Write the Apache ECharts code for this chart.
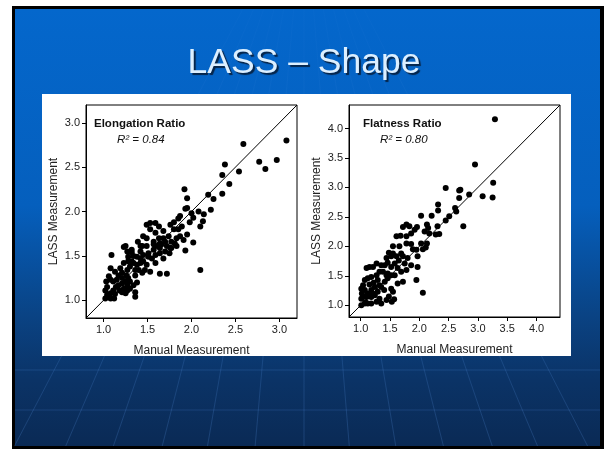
<!DOCTYPE html>
<html>
<head>
<meta charset="utf-8">
<script src="https://cdn.jsdelivr.net/npm/echarts@6/dist/echarts.min.js"></script>
<style>
  html, body { margin: 0; padding: 0; background: #fff; }
  #chart { width: 604px; height: 449px; }
</style>
</head>
<body>
<div id="chart"></div>
<script>
// Elongation ratio: manual vs LASS
const elongManual = [3.08, 2.97, 2.84, 2.77, 2.59, 2.54, 2.43, 2.38, 2.35, 2.35, 2.25, 2.19, 2.22, 2.14, 2.08, 2.13,
  2.02, 1.98, 1.92, 1.95, 1.93, 1.95, 2.00, 2.10, 2.02, 1.93, 2.10, 1.95, 1.89, 1.87, 1.85, 1.80, 1.83, 1.77, 1.81,
  1.77, 1.72, 1.74, 1.68, 1.64, 1.63, 1.59, 1.57, 1.53, 1.49, 1.53, 1.49, 1.72, 1.64, 1.53, 1.59, 1.68, 1.75, 1.64,
  1.57, 1.49, 1.44, 1.42, 1.45, 1.51, 1.55, 1.59, 1.61, 1.64, 1.70, 1.49, 1.45, 1.42, 1.38, 1.32, 1.32, 1.34, 1.38,
  1.23, 1.25, 1.09, 1.08, 1.28, 1.23, 1.19, 1.27, 1.30, 1.36, 1.40, 1.44, 1.36, 1.38, 1.36, 1.36, 1.27, 1.23, 1.21,
  1.15, 1.17, 1.11, 1.08, 1.04, 1.02, 1.08, 1.12, 1.02, 1.04, 1.03, 1.08, 1.11, 1.06, 1.17, 1.21, 1.26, 1.28, 1.30,
  1.25, 1.21, 1.14, 1.18, 1.21, 1.13, 1.25, 1.27, 1.30, 1.34, 1.13, 1.28, 1.34, 1.42, 1.47, 1.51, 1.57, 1.63, 1.68,
  1.66, 1.70, 1.76, 1.80, 1.85, 1.87, 1.91, 1.83, 1.76, 1.59, 1.45, 1.39, 1.42, 1.27, 1.32];
const elongLass = [2.80, 2.58, 2.48, 2.56, 2.76, 2.45, 2.31, 2.53, 2.41, 2.20, 2.14, 2.19, 2.02, 1.97, 2.00, 1.89,
  1.93, 1.88, 2.25, 2.15, 2.03, 2.04, 1.98, 1.83, 1.65, 1.56, 1.34, 1.74, 1.83, 1.95, 1.92, 1.80, 1.70, 1.66, 1.64,
  1.59, 1.61, 1.72, 1.78, 1.64, 1.83, 1.76, 1.66, 1.87, 1.85, 1.80, 1.70, 1.30, 1.30, 1.32, 1.42, 1.47, 1.53, 1.53,
  1.57, 1.61, 1.61, 1.55, 1.51, 1.49, 1.47, 1.51, 1.61, 1.59, 1.55, 1.40, 1.44, 1.42, 1.40, 1.44, 1.54, 1.50, 1.49,
  1.60, 1.61, 1.51, 1.36, 1.44, 1.42, 1.36, 1.34, 1.38, 1.34, 1.34, 1.31, 1.28, 1.20, 1.09, 1.04, 1.17, 1.13, 1.25,
  1.23, 1.17, 1.11, 1.08, 1.06, 1.02, 1.02, 1.02, 1.11, 1.15, 1.21, 1.23, 1.21, 1.27, 1.28, 1.31, 1.28, 1.25, 1.21,
  1.21, 1.19, 1.15, 1.11, 1.09, 1.07, 1.08, 1.11, 1.13, 1.17, 1.32, 1.49, 1.42, 1.47, 1.34, 1.53, 1.63, 1.70, 1.70,
  1.63, 1.66, 1.85, 1.88, 1.80, 1.72, 1.68, 1.61, 1.59, 1.87, 1.72, 1.66, 1.61, 1.55, 1.57];

// Flatness ratio: manual vs LASS
const flatManual = [3.29, 2.95, 3.26, 3.25, 3.08, 2.85, 2.70, 2.68, 2.45, 2.68, 2.61, 2.63, 2.51, 2.45, 2.75, 2.32,
  2.32, 2.31, 2.34, 2.28, 2.21, 2.03, 2.13, 2.15, 2.17, 2.09, 2.13, 2.11, 2.06, 2.03, 1.96, 1.92, 1.86, 1.83, 1.78,
  1.72, 1.68, 1.78, 1.61, 1.55, 1.86, 1.89, 1.95, 1.97, 1.97, 1.95, 2.06, 1.69, 1.65, 1.75, 1.80, 1.86, 1.78, 1.69,
  1.72, 1.63, 1.58, 1.52, 1.48, 1.52, 1.46, 1.41, 1.38, 1.44, 1.52, 1.55, 1.57, 1.53, 1.48, 1.40, 1.32, 1.29, 1.27,
  1.18, 1.12, 1.15, 1.10, 1.21, 1.24, 1.18, 1.12, 1.07, 1.02, 1.01, 1.01, 1.07, 1.12, 1.18, 1.27, 1.32, 1.35, 1.44,
  1.04, 1.07, 1.01, 1.10, 1.18, 1.24, 1.29, 1.35, 1.41, 1.46, 1.52, 1.32, 1.35, 1.44, 1.58, 1.63, 1.61, 1.55, 1.66,
  1.78, 1.72, 1.46, 1.27, 1.05, 1.15, 1.22, 1.08, 1.20];
const flatLass = [4.16, 3.39, 3.08, 2.83, 2.85, 2.88, 2.96, 2.95, 2.99, 2.82, 2.65, 2.59, 2.51, 2.44, 2.34, 2.71,
  2.61, 2.34, 2.21, 2.20, 2.52, 2.52, 2.37, 2.31, 2.22, 2.25, 2.05, 1.98, 1.95, 2.05, 2.33, 2.28, 2.22, 2.34, 2.37,
  2.33, 2.18, 2.17, 2.17, 2.00, 2.04, 1.95, 1.94, 1.83, 1.65, 1.43, 1.21, 1.88, 1.76, 1.71, 1.80, 1.68, 1.60, 1.57,
  1.40, 1.37, 1.51, 1.65, 1.89, 1.83, 1.72, 1.68, 1.57, 1.51, 1.28, 1.23, 1.10, 1.06, 1.15, 1.26, 1.34, 1.43, 1.51,
  1.48, 1.46, 1.65, 1.63, 1.65, 1.31, 1.26, 1.20, 1.26, 1.20, 1.11, 1.00, 1.03, 1.03, 1.03, 1.06, 1.11, 1.03, 1.09,
  1.34, 1.43, 1.28, 1.14, 1.14, 1.17, 1.23, 1.31, 1.40, 1.46, 1.51, 1.57, 1.68, 1.80, 1.71, 1.63, 1.83, 1.88, 2.00,
  2.05, 1.83, 1.54, 1.71, 1.15, 1.35, 1.38, 1.05, 1.20];

const elongTicks = [1.0, 1.5, 2.0, 2.5, 3.0];
const flatTicks = [1.0, 1.5, 2.0, 2.5, 3.0, 3.5, 4.0];
const elongRange = [0.8, 3.2];
const flatRange = [0.8, 4.4];

const zip = (xs, ys) => xs.map((x, i) => [x, ys[i]]);

const chart = echarts.init(document.getElementById('chart'));

const FONT = 'Liberation Sans, Arial, sans-serif';

const makeAxis = (gridIndex, range, ticks, name, isY) => ({
  type: 'value',
  gridIndex,
  min: range[0],
  max: range[1],
  name,
  nameLocation: 'middle',
  nameGap: isY ? 26 : 27,
  nameTextStyle: { fontFamily: FONT, fontSize: 12, color: '#222' },
  axisLine: { show: true, onZero: false, lineStyle: { color: '#000', width: 1 } },
  axisTick: { show: true, inside: false, length: 4, customValues: ticks, lineStyle: { color: '#000' } },
  axisLabel: {
    customValues: ticks,
    formatter: v => v.toFixed(1),
    fontFamily: FONT,
    fontSize: 11,
    color: '#222',
    margin: 6
  },
  splitLine: { show: false }
});

// faint decorative lines in the slide background
const meridianX = [61, 104, 144, 185, 223, 263, 304, 342, 381, 421, 462, 500, 542];
const vanish = [304, -108];
const meridians = meridianX.map(x0 => {
  const f = y => vanish[0] + (x0 - vanish[0]) * (y - vanish[1]) / (357 - vanish[1]);
  return {
    type: 'line',
    z: -8,
    silent: true,
    shape: { x1: f(9), y1: 9, x2: f(446), y2: 446 },
    style: {
      lineWidth: 1,
      stroke: {
        type: 'linear', x: 0, y: 0, x2: 0, y2: 1,
        colorStops: [
          { offset: 0, color: 'rgba(90,150,230,0.03)' },
          { offset: 1, color: 'rgba(90,150,230,0.22)' }
        ]
      }
    }
  };
});

const option = {
  animation: false,
  graphic: [
    { type: 'rect', z: -10, silent: true, shape: { x: 12, y: 6, width: 592, height: 443 }, style: { fill: '#000' } },
    {
      type: 'rect', z: -9, silent: true,
      shape: { x: 15, y: 9, width: 585, height: 437 },
      style: {
        fill: {
          type: 'linear', x: 0, y: 0, x2: 0, y2: 1,
          colorStops: [
            { offset: 0, color: '#0467cc' },
            { offset: 0.45, color: '#055fbd' },
            { offset: 0.7, color: '#0a4384' },
            { offset: 0.85, color: '#0b3366' },
            { offset: 1, color: '#0a2a55' }
          ]
        }
      }
    },
    ...meridians,
    { type: 'line', z: -8, silent: true, shape: { x1: 15, y1: 370, x2: 600, y2: 370 }, style: { stroke: 'rgba(80,140,220,0.22)', lineWidth: 1 } },
    { type: 'line', z: -8, silent: true, shape: { x1: 15, y1: 410, x2: 600, y2: 410 }, style: { stroke: 'rgba(80,140,220,0.22)', lineWidth: 1 } },
    { type: 'rect', z: -5, silent: true, shape: { x: 42, y: 94, width: 529, height: 262 }, style: { fill: '#fff' } },
    {
      type: 'text', z: 10, silent: true,
      x: 304, y: 63,
      style: {
        text: 'LASS – Shape',
        fontFamily: FONT,
        fontSize: 35.5,
        fill: '#dcefff',
        align: 'center',
        verticalAlign: 'middle',
        textShadowColor: '#062448',
        textShadowOffsetX: 2,
        textShadowOffsetY: 2,
        textShadowBlur: 1
      }
    },
    { type: 'text', z: 10, silent: true, x: 94, y: 124, style: { text: 'Elongation Ratio', fontFamily: FONT, fontSize: 11.5, fontWeight: 'bold', fill: '#111', verticalAlign: 'middle' } },
    { type: 'text', z: 10, silent: true, x: 117, y: 140, style: { text: 'R² = 0.84', fontFamily: FONT, fontSize: 11.5, fontStyle: 'italic', fill: '#111', verticalAlign: 'middle' } },
    { type: 'text', z: 10, silent: true, x: 363, y: 124, style: { text: 'Flatness Ratio', fontFamily: FONT, fontSize: 11.5, fontWeight: 'bold', fill: '#111', verticalAlign: 'middle' } },
    { type: 'text', z: 10, silent: true, x: 380, y: 140, style: { text: 'R² = 0.80', fontFamily: FONT, fontSize: 11.5, fontStyle: 'italic', fill: '#111', verticalAlign: 'middle' } }
  ],
  grid: [
    { left: 86, top: 105, width: 211, height: 213, show: true, borderColor: '#000', borderWidth: 1, backgroundColor: 'transparent' },
    { left: 349, top: 105, width: 211, height: 212, show: true, borderColor: '#000', borderWidth: 1, backgroundColor: 'transparent' }
  ],
  xAxis: [
    makeAxis(0, elongRange, elongTicks, 'Manual Measurement', false),
    makeAxis(1, flatRange, flatTicks, 'Manual Measurement', false)
  ],
  yAxis: [
    makeAxis(0, elongRange, elongTicks, 'LASS Measurement', true),
    makeAxis(1, flatRange, flatTicks, 'LASS Measurement', true)
  ],
  series: [
    {
      type: 'line', xAxisIndex: 0, yAxisIndex: 0, silent: true, showSymbol: false,
      data: zip(elongRange, elongRange),
      lineStyle: { color: '#000', width: 1 }, z: 1
    },
    {
      type: 'scatter', xAxisIndex: 0, yAxisIndex: 0, symbolSize: 6,
      data: zip(elongManual, elongLass),
      itemStyle: { color: '#000', opacity: 1 }, z: 3
    },
    {
      type: 'line', xAxisIndex: 1, yAxisIndex: 1, silent: true, showSymbol: false,
      data: zip(flatRange, flatRange),
      lineStyle: { color: '#000', width: 1 }, z: 1
    },
    {
      type: 'scatter', xAxisIndex: 1, yAxisIndex: 1, symbolSize: 6,
      data: zip(flatManual, flatLass),
      itemStyle: { color: '#000', opacity: 1 }, z: 3
    }
  ]
};

chart.setOption(option);
</script>
</body>
</html>
